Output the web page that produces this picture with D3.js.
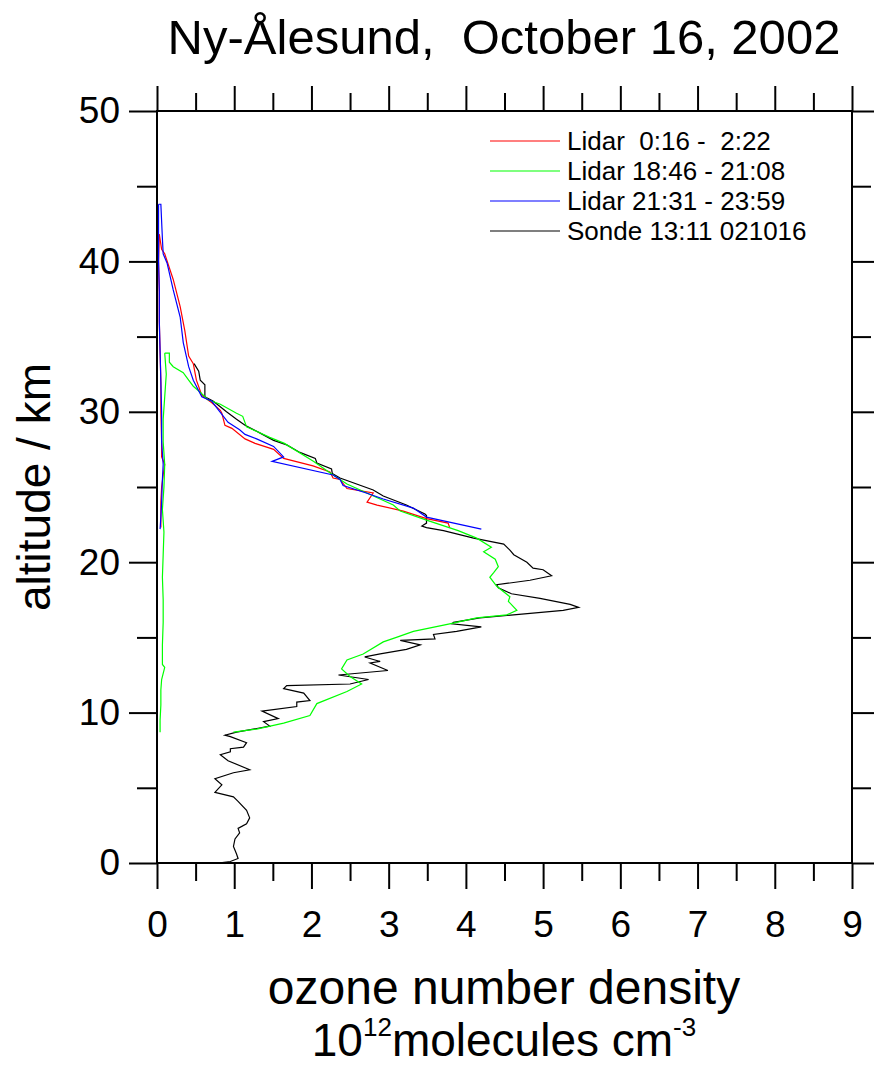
<!DOCTYPE html>
<meta charset="utf-8">
<script src="https://d3js.org/d3.v7.min.js"></script>
<style>
  body { margin: 0; background: #fff; }
  text { font-family: "Liberation Sans", Arial, Helvetica, sans-serif; fill: #000; white-space: pre; }
</style>
<div id="chart"></div>
<script>
// profiles as [altitude km, ozone 10^12 molecules cm^-3]
const sondeProfile = [
  [0.0,0.79],[0.1,0.95],[0.3,1.05],[0.6,1.03],[1.1,0.99],[1.6,1.01],[2.0,1.07],[2.3,1.05],
  [2.6,1.16],[3.0,1.20],[3.5,1.16],[4.1,1.05],[4.4,0.99],[4.7,0.75],[5.2,0.84],[5.6,0.75],
  [6.0,0.99],[6.2,1.20],[6.8,0.92],[7.2,0.82],[7.4,0.95],[7.6,0.95],[7.7,1.12],[8.0,1.16],
  [8.4,0.95],[8.5,0.88],[8.7,1.03],[9.1,1.46],[9.4,1.38],[9.6,1.57],[10.1,1.36],[10.4,1.81],
  [10.7,1.81],[10.8,1.98],[11.3,1.90],[11.6,1.64],[11.8,1.68],[11.9,2.50],[12.2,2.74],[12.5,2.35],
  [12.8,2.99],[13.3,2.76],[13.4,2.89],[13.7,2.69],[13.9,2.89],[14.2,3.23],[14.5,3.41],[14.8,3.15],
  [14.9,3.60],[15.2,3.58],[15.4,3.88],[15.7,4.20],[15.9,3.82],[16.0,3.84],[16.3,4.18],[16.8,5.26],
  [17.0,5.46],[17.2,5.35],[17.6,4.96],[17.9,4.59],[18.3,4.42],[18.5,4.40],[18.8,4.83],[19.1,5.11],
  [19.5,5.00],[19.6,4.87],[20.0,4.79],[20.5,4.62],[20.8,4.57],[21.2,4.49],[21.6,4.10],[22.1,3.71],
  [22.3,3.49],[22.4,3.43],[22.6,3.49],[23.1,3.49],[23.2,3.47],[23.8,3.23],[24.4,2.93],[24.8,2.80],
  [25.6,2.37],[25.9,2.27],[26.2,2.26],[26.6,2.07],[26.9,2.05],[27.3,1.85],[27.8,1.68],[28.1,1.51],
  [28.6,1.33],[29.1,1.14],[29.5,1.03],[30.0,0.90],[30.7,0.73],[31.0,0.62],[31.8,0.62],[32.1,0.56],
  [32.7,0.54],[33.2,0.48]
];

const lidarRed = [
  [41.8,0.03],[40.8,0.06],[40.5,0.10],[38.8,0.21],[37.0,0.30],[35.4,0.36],[33.7,0.41],[33.2,0.47],
  [32.1,0.51],[31.1,0.58],[30.6,0.71],[30.1,0.82],[29.9,0.84],[29.1,0.88],[28.9,0.97],[28.2,1.14],
  [27.9,1.27],[27.5,1.51],[26.9,1.64],[26.4,2.02],[26.0,2.24],[25.6,2.28],[25.5,2.37],[24.9,2.46],
  [24.6,2.80],[24.0,2.72],[23.8,2.85],[23.4,3.19],[22.9,3.49],[22.6,3.77],[22.3,3.79]
];
const lidarRedErr = [
  [41.8,0.03],[40.0,0.02],[38.0,0.03],[36.0,0.03],[34.0,0.04],[32.0,0.05],[30.0,0.05],[28.0,0.06],
  [27.0,0.06],[26.5,0.10],[25.8,0.08],[25.0,0.06],[24.0,0.05],[23.0,0.05],[22.3,0.05]
];

const lidarGreen = [
  [33.9,0.10],[33.9,0.16],[33.3,0.16],[33.0,0.21],[32.6,0.34],[32.1,0.41],[31.7,0.47],[31.3,0.56],
  [30.8,0.66],[30.5,0.82],[29.9,1.03],[29.7,1.11],[29.0,1.16],[28.3,1.46],[27.9,1.65],[26.7,2.03],
  [25.8,2.28],[25.2,2.46],[24.5,2.76],[23.8,3.06],[23.4,3.15],[22.8,3.49],[22.1,3.90],[21.6,4.14],
  [21.0,4.33],[20.7,4.23],[20.2,4.38],[19.7,4.42],[19.3,4.36],[19.0,4.31],[18.4,4.40],[17.7,4.57],
  [17.4,4.55],[16.8,4.66],[16.5,4.53],[16.3,4.14],[15.9,3.79],[15.4,3.32],[15.0,3.10],[14.7,2.93],
  [13.9,2.67],[13.5,2.46],[12.9,2.39],[12.4,2.50],[11.9,2.65],[11.4,2.46],[10.6,2.07],[9.8,1.98],
  [9.3,1.64],[8.9,1.29],[8.7,0.99]
];
const lidarGreenErr = [
  [33.9,0.10],[32.5,0.12],[31.0,0.10],[29.5,0.08],[28.0,0.08],[26.5,0.10],[25.0,0.09],[23.5,0.07],
  [22.0,0.09],[20.5,0.08],[19.0,0.07],[17.5,0.08],[16.0,0.08],[14.5,0.07],[13.2,0.07],[13.0,0.10],
  [12.2,0.06],[11.5,0.05],[10.5,0.05],[9.5,0.04],[8.7,0.04]
];

const lidarBlue = [
  [43.8,0.02],[43.8,0.05],[41.5,0.07],[40.5,0.08],[39.9,0.13],[38.1,0.21],[36.3,0.30],[34.6,0.34],
  [33.0,0.41],[32.1,0.47],[31.0,0.58],[30.7,0.71],[30.1,0.80],[29.3,0.92],[28.8,1.07],[28.5,1.14],
  [28.2,1.29],[27.7,1.51],[27.0,1.64],[26.7,1.49],[25.8,2.28],[25.5,2.37],[25.1,2.41],[24.6,2.71],
  [24.2,2.93],[23.6,3.32],[23.0,3.49],[22.2,4.20]
];
const lidarBlueErr = [
  [43.8,0.02],[42.0,0.02],[40.0,0.02],[38.0,0.03],[36.0,0.03],[34.0,0.04],[32.0,0.05],[30.0,0.06],
  [28.0,0.06],[26.5,0.08],[25.5,0.07],[24.0,0.06],[23.0,0.05],[22.2,0.04]
];

const legendLabels = ["Lidar  0:16 -  2:22", "Lidar 18:46 - 21:08", "Lidar 21:31 - 23:59", "Sonde 13:11 021016"];
const legendColors = ["#ff0000", "#00ff00", "#0000ff", "#000000"];

const xMajor = d3.range(0, 10, 1);
const xMinor = d3.range(0.5, 9, 1);
const yMajor = d3.range(0, 60, 10);
const yMinor = d3.range(5, 50, 10);

const W = 874, H = 1068;
const svg = d3.select("#chart").append("svg").attr("width", W).attr("height", H);

const x = d3.scaleLinear().domain([0, 9]).range([157, 852]);
const y = d3.scaleLinear().domain([0, 50]).range([863, 111]);

// ticks on all four sides, major + minor
function ticks(axisFn, pos, values, size, labels) {
  const g = svg.append("g").attr("transform", pos)
    .call(axisFn.tickValues(values).tickSize(size).tickSizeOuter(0)
      .tickFormat(labels ? d3.format("d") : ""));
  g.select(".domain").remove();
  g.selectAll("line").attr("stroke", "#000").attr("stroke-width", 2);
  return g;
}
ticks(d3.axisBottom(x), `translate(0,${y(0)})`, xMinor, 18, false);
const xl = ticks(d3.axisBottom(x).tickPadding(22), `translate(0,${y(0)})`, xMajor, 26, true);
xl.selectAll("text").attr("font-size", 37).attr("font-family", "Liberation Sans, Arial, sans-serif");
ticks(d3.axisTop(x), `translate(0,${y(50)})`, xMinor, 18, false);
ticks(d3.axisTop(x), `translate(0,${y(50)})`, xMajor, 25, false);
ticks(d3.axisLeft(y), `translate(${x(0)},0)`, yMinor, 20, false);
const yl = ticks(d3.axisLeft(y).tickPadding(9), `translate(${x(0)},0)`, yMajor, 28, true);
yl.selectAll("text").attr("font-size", 37).attr("font-family", "Liberation Sans, Arial, sans-serif");
ticks(d3.axisRight(y), `translate(${x(9)},0)`, yMinor, 19, false);
ticks(d3.axisRight(y), `translate(${x(9)},0)`, yMajor, 23, false);

// frame
svg.append("rect")
  .attr("x", x(0)).attr("y", y(50))
  .attr("width", x(9) - x(0)).attr("height", y(0) - y(50))
  .attr("fill", "none").attr("stroke", "#000").attr("stroke-width", 2);

// profiles
const line = d3.line().x(d => x(d[1])).y(d => y(d[0]));
const series = [
  [sondeProfile, "#000000"],
  [lidarRed, "#ff0000"], [lidarRedErr, "#ff0000"],
  [lidarGreen, "#00ff00"], [lidarGreenErr, "#00ff00"],
  [lidarBlue, "#0000ff"], [lidarBlueErr, "#0000ff"]
];
series.forEach(([data, col]) => {
  svg.append("path").datum(data)
    .attr("d", line)
    .attr("fill", "none").attr("stroke", col).attr("stroke-width", 1.2);
});

// legend
const leg = svg.append("g");
legendLabels.forEach((lab, i) => {
  const ly = 141 + i * 30;
  leg.append("line").attr("x1", 490).attr("x2", 560).attr("y1", ly).attr("y2", ly)
    .attr("stroke", legendColors[i]).attr("stroke-width", 1.2);
  leg.append("text").attr("x", 567).attr("y", ly).attr("dy", "0.36em")
    .attr("font-size", 26).text(lab);
});

// titles
svg.append("text").attr("x", 504).attr("y", 54).attr("text-anchor", "middle")
  .attr("font-size", 49).text("Ny-Ålesund,  October 16, 2002");

svg.append("text").attr("transform", "translate(50,487) rotate(-90)")
  .attr("text-anchor", "middle").attr("font-size", 46).text("altitude / km");

svg.append("text").attr("x", 504).attr("y", 1004).attr("text-anchor", "middle")
  .attr("font-size", 48).text("ozone number density");

const u = svg.append("text").attr("x", 504).attr("y", 1056).attr("text-anchor", "middle")
  .attr("font-size", 46);
u.append("tspan").text("10");
u.append("tspan").attr("font-size", 26).attr("dy", -20).text("12");
u.append("tspan").attr("dy", 20).text("molecules cm");
u.append("tspan").attr("font-size", 26).attr("dy", -20).text("-3");
</script>
